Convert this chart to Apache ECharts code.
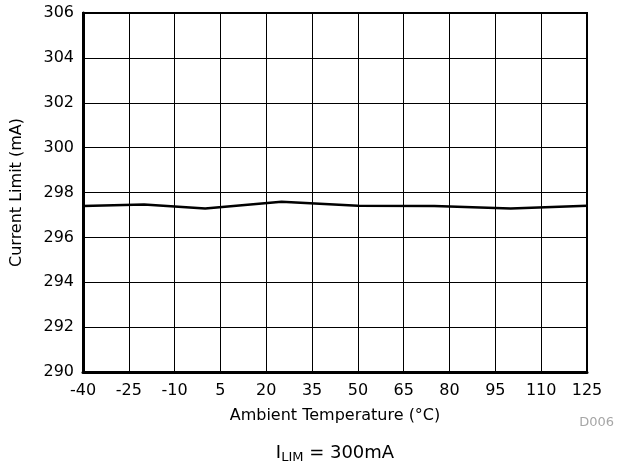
<!DOCTYPE html>
<html>
<head>
<meta charset="utf-8">
<script src="https://cdn.jsdelivr.net/npm/echarts@6/dist/echarts.min.js"></script>
<style>
  html, body { margin: 0; padding: 0; background: #fff; }
  #chart { width: 622px; height: 468px; }
</style>
</head>
<body>
<div id="chart"></div>
<script>
// Current limit versus ambient temperature
const temperatures = [-40, -20, 0, 25, 50, 75, 100, 125];
const currentLimit = [297.40, 297.47, 297.29, 297.59, 297.41, 297.40, 297.29, 297.41];
const xTicks = [-40, -25, -10, 5, 20, 35, 50, 65, 80, 95, 110, 125];
const yTicks = [290, 292, 294, 296, 298, 300, 302, 304, 306];

const FONT = '"DejaVu Sans", Arial, sans-serif';

const chart = echarts.init(document.getElementById('chart'), null, { renderer: 'canvas' });

chart.setOption({
  animation: false,
  backgroundColor: '#fff',
  title: [
    {
      text: '{m|I}{s|LIM}{m| = 300mA}',
      left: 335,
      textAlign: 'center',
      top: 442,
      padding: 0,
      textStyle: {
        fontWeight: 'normal',
        rich: {
          m: { fontFamily: FONT, fontSize: 18, fontWeight: 'normal', color: '#000', lineHeight: 22 },
          s: { fontFamily: FONT, fontSize: 13, fontWeight: 'normal', color: '#000', lineHeight: 22, padding: [10, 0, 0, 0] }
        }
      }
    },
    {
      text: 'D006',
      right: 8,
      top: 416,
      padding: 0,
      textStyle: { fontFamily: FONT, fontSize: 13, fontWeight: 'normal', color: '#a6a6a6' }
    }
  ],
  grid: { left: 83, right: 35, top: 13, bottom: 96, show: true, borderColor: '#000', borderWidth: 2 },
  xAxis: {
    type: 'value',
    min: xTicks[0],
    max: xTicks[xTicks.length - 1],
    interval: 15,
    name: 'Ambient Temperature (°C)',
    nameLocation: 'middle',
    nameGap: 36,
    nameTextStyle: { fontFamily: FONT, fontSize: 16, color: '#000' },
    axisLine: { show: true, onZero: false, lineStyle: { color: '#000', width: 3 } },
    axisTick: { show: false },
    axisLabel: { fontFamily: FONT, fontSize: 16, color: '#000', margin: 11, showMinLabel: true, showMaxLabel: true,
      customValues: xTicks },
    splitLine: { show: true, lineStyle: { color: '#000', width: 1 } }
  },
  yAxis: {
    type: 'value',
    min: yTicks[0],
    max: yTicks[yTicks.length - 1],
    interval: 2,
    name: 'Current Limit (mA)',
    nameLocation: 'middle',
    nameGap: 58,
    nameTextStyle: { fontFamily: FONT, fontSize: 16, color: '#000' },
    axisLine: { show: true, onZero: false, lineStyle: { color: '#000', width: 3 } },
    axisTick: { show: false },
    axisLabel: { fontFamily: FONT, fontSize: 16, color: '#000', margin: 9 },
    splitLine: { show: true, lineStyle: { color: '#000', width: 1 } }
  },
  series: [
    {
      type: 'line',
      data: temperatures.map((t, i) => [t, currentLimit[i]]),
      showSymbol: false,
      lineStyle: { color: '#000', width: 2.5 },
      z: 5
    }
  ]
});
</script>
</body>
</html>
